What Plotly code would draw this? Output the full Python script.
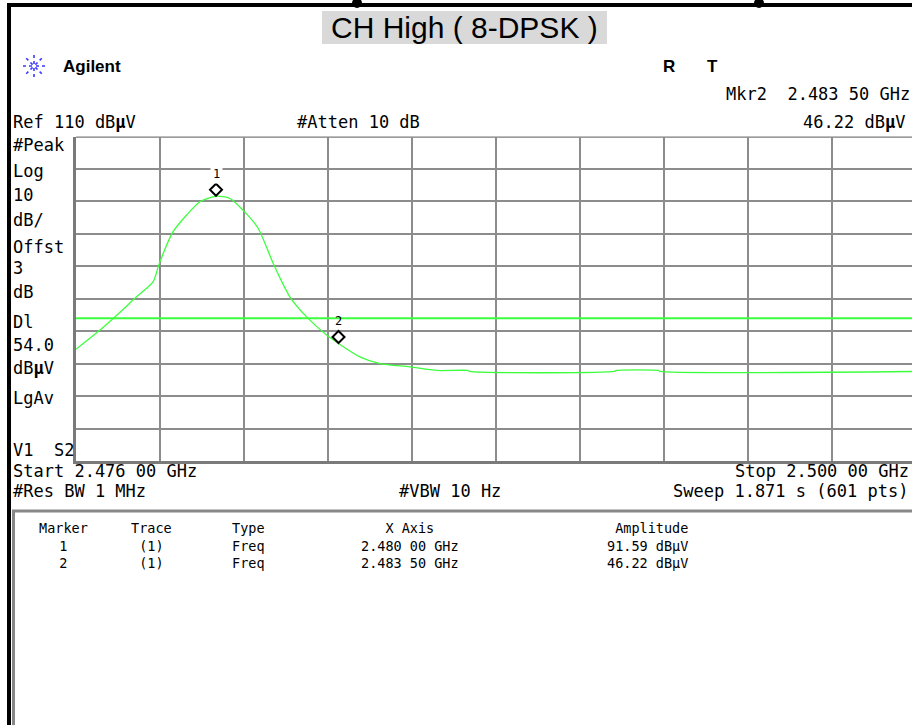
import math
import plotly.graph_objects as go

W, H = 912, 725

# ---- sweep settings ----
start_ghz = 2.476
stop_ghz = 2.500
ref_level = 110.0
db_per_div = 10.0
n_div = 10
display_line_dbuv = 54.0

# ---- trace 1, peak envelope (GHz, dBµV) ----
freq_ghz = [2.47600, 2.47659, 2.47711, 2.47773, 2.47820, 2.47838, 2.47877,
            2.47916, 2.47954, 2.48000, 2.48040, 2.48077, 2.48120, 2.48163,
            2.48211, 2.48259, 2.48316, 2.48350, 2.48364, 2.48411, 2.48469,
            2.48554, 2.48631, 2.48720, 2.48725, 2.49138, 2.49143, 2.49264,
            2.49269, 2.50000]
level_dbuv = [44.45, 49.5, 54.4, 60.6, 65.2, 70.9, 80.6,
              85.8, 89.9, 91.59, 90.9, 87.3, 81.8, 71.0,
              60.6, 54.4, 48.8, 46.22, 45.2, 42.1, 40.0,
              39.0, 37.9, 37.9, 37.6, 37.6, 37.9, 37.9,
              37.6, 37.6]

# ---- markers ----
marker_ids = ["1", "2"]
marker_freq_ghz = [2.48000, 2.48350]
marker_level_dbuv = [91.59, 46.22]

MONO = "DejaVu Sans Mono"
SANS = "Liberation Sans"
GRID = "#8c8c8c"
TRACE = "#3cff3c"


def X(p):
    return p / W


def Y(p):
    return 1 - p / H


def ghz_txt(f):
    s = f"{f:.5f}"
    return f"{s[:5]} {s[5:]} GHz"


# graticule geometry (the right end of the screen runs past the window edge)
plot_left, plot_right_full = 76, 916
plot_top, plot_bottom = 136.5, 461
span = stop_ghz - start_ghz
visible_end = start_ghz + span * (W - plot_left) / (plot_right_full - plot_left)

fig = go.Figure()

fig.add_trace(go.Scatter(
    x=freq_ghz, y=level_dbuv, mode="lines",
    line=dict(color=TRACE, width=1.3, shape="spline", smoothing=0.7),
    hoverinfo="skip", showlegend=False,
))

shapes = []
annotations = []

# display line
shapes.append(dict(type="line", xref="x domain", yref="y", x0=0, x1=1,
                   y0=display_line_dbuv, y1=display_line_dbuv,
                   line=dict(color=TRACE, width=2), layer="above"))
# top edge of graticule
shapes.append(dict(type="line", xref="x domain", yref="y", x0=0, x1=1,
                   y0=ref_level, y1=ref_level,
                   line=dict(color="#7a7a7a", width=2.5), layer="below"))

# marker diamonds sitting just above the trace point
for mid, f, v in zip(marker_ids, marker_freq_ghz, marker_level_dbuv):
    shapes.append(dict(type="path", xref="x", yref="y",
                       xsizemode="pixel", ysizemode="pixel",
                       xanchor=f, yanchor=v,
                       path="M 0 0.5 L 6 6.5 L 0 12.5 L -6 6.5 Z",
                       line=dict(color="black", width=2), fillcolor="white",
                       layer="above"))
    annotations.append(dict(x=f, y=v, xref="x", yref="y", text=mid,
                            showarrow=False, yshift=22,
                            font=dict(family=MONO, size=12, color="black"),
                            bgcolor="white" if mid == "1" else "rgba(0,0,0,0)",
                            borderpad=2))

# screen frame
shapes.append(dict(type="rect", xref="paper", yref="paper",
                   x0=X(7), x1=X(11), y0=Y(725), y1=Y(3),
                   fillcolor="black", line=dict(width=0)))
shapes.append(dict(type="rect", xref="paper", yref="paper",
                   x0=X(7), x1=X(912), y0=Y(7), y1=Y(3),
                   fillcolor="black", line=dict(width=0)))
for cx in (357, 759):
    shapes.append(dict(type="circle", xref="paper", yref="paper",
                       x0=X(cx - 5), x1=X(cx + 5), y0=Y(8), y1=Y(-2),
                       fillcolor="black", line=dict(width=0)))

# marker table box
shapes.append(dict(type="rect", xref="paper", yref="paper",
                   x0=X(13.5), x1=X(930), y0=Y(740), y1=Y(511),
                   fillcolor="rgba(0,0,0,0)", line=dict(color="#888888", width=3)))

# title plate
shapes.append(dict(type="rect", xref="paper", yref="paper",
                   x0=X(322), x1=X(607), y0=Y(44), y1=Y(11),
                   fillcolor="#d9d9d9", line=dict(width=0), layer="below"))
annotations.append(dict(x=X(465), y=Y(28), xref="paper", yref="paper",
                        text="CH High ( 8-DPSK )", showarrow=False,
                        xanchor="center", yanchor="middle",
                        font=dict(family=SANS, size=30, color="black")))

# Agilent spark logo
cx, cy, r = 34, 66, 11
for k in range(8):
    a = k * math.pi / 4
    shapes.append(dict(type="line", xref="paper", yref="paper",
                       x0=X(cx + 2 * math.cos(a)), y0=Y(cy + 2 * math.sin(a)),
                       x1=X(cx + r * math.cos(a)), y1=Y(cy + r * math.sin(a)),
                       line=dict(color="#3a3aff", width=1.6, dash="dot")))


def txt(x, y, s, anchor="left", size=17, family=MONO, bold=False, align=None):
    if bold:
        s = f"<b>{s}</b>"
    annotations.append(dict(x=X(x), y=Y(y), xref="paper", yref="paper",
                            text=s, showarrow=False, xanchor=anchor,
                            yanchor="middle", align=align or anchor,
                            borderpad=0,
                            font=dict(family=family, size=size, color="black")))


txt(62, 66, "Agilent", family=SANS, bold=True)
txt(669, 66, "R", anchor="center", family=SANS, bold=True)
txt(712, 66, "T", anchor="center", family=SANS, bold=True)

mk2 = marker_ids.index("2")
txt(911, 94, f"Mkr2  {ghz_txt(marker_freq_ghz[mk2])}", anchor="right")
txt(906, 122, f"{marker_level_dbuv[mk2]:.2f} dB<b>µ</b>V", anchor="right")
txt(12, 122, f"Ref {ref_level:.0f} dB<b>µ</b>V")
txt(296, 122, "#Atten 10 dB")

side_labels = [("#Peak", 145), ("Log", 171), ("10", 195), ("dB/", 220),
               ("Offst", 247), ("3", 268), ("dB", 292), ("Dl", 322),
               (f"{display_line_dbuv:.1f}", 345), ("dB<b>µ</b>V", 368),
               ("LgAv", 398), ("V1  S2", 450)]
for s, y in side_labels:
    txt(12, y, s)

txt(12, 471, f"Start {ghz_txt(start_ghz)}")
txt(910, 471, f"Stop {ghz_txt(stop_ghz)}", anchor="right")
txt(12, 491, "#Res BW 1 MHz")
txt(398, 491, "#VBW 10 Hz")
txt(909, 491, "Sweep 1.871 s (601 pts)", anchor="right")

# marker table, one text block per column
TS = 13.5
col_marker = ["Marker"] + marker_ids
col_trace = ["Trace"] + ["(1)"] * len(marker_ids)
col_type = ["Type"] + ["Freq"] * len(marker_ids)
col_x = ["X Axis"] + [ghz_txt(f) for f in marker_freq_ghz]
col_amp = ["Amplitude"] + [f"{v:.2f} dBµV" for v in marker_level_dbuv]
table_mid_y = 545
txt(63, table_mid_y, "<br>".join(col_marker), anchor="center", size=TS)
txt(151, table_mid_y, "<br>".join(col_trace), anchor="center", size=TS)
txt(231, table_mid_y, "<br>".join(col_type), anchor="left", size=TS)
txt(410, table_mid_y, "<br>".join(col_x), anchor="center", size=TS)
txt(689, table_mid_y, "<br>".join(col_amp), anchor="right", size=TS)

axis_common = dict(showgrid=True, gridcolor=GRID, gridwidth=1.5,
                   showticklabels=False, ticks="", zeroline=False,
                   showline=True, linecolor="#7a7a7a", linewidth=3,
                   fixedrange=True)

fig.update_layout(
    width=W, height=H,
    margin=dict(l=0, r=0, t=0, b=0),
    paper_bgcolor="white", plot_bgcolor="white",
    showlegend=False,
    font=dict(family=MONO, color="black"),
    xaxis=dict(domain=[X(plot_left), 1], range=[start_ghz, visible_end],
               tick0=start_ghz, dtick=span / n_div, **axis_common),
    yaxis=dict(domain=[Y(plot_bottom), Y(plot_top)],
               range=[ref_level - n_div * db_per_div, ref_level],
               tick0=ref_level - n_div * db_per_div, dtick=db_per_div,
               **axis_common),
    shapes=shapes,
    annotations=annotations,
)

fig.write_html("out.html")
